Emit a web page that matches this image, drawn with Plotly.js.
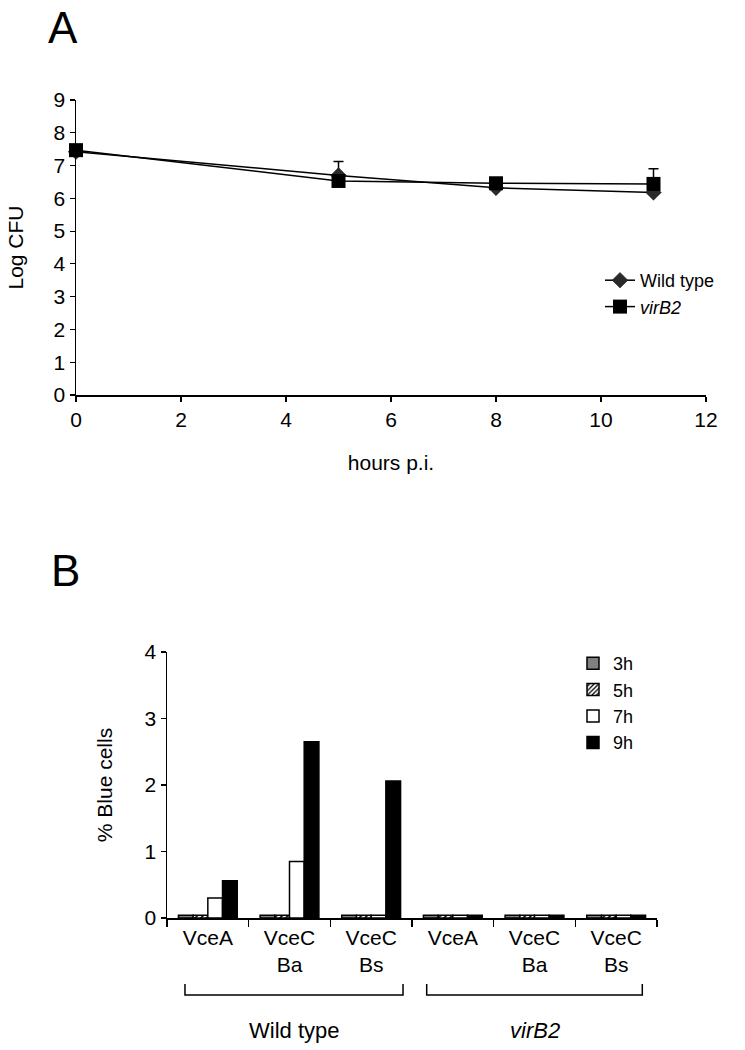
<!DOCTYPE html>
<html>
<head>
<meta charset="utf-8">
<script src="https://cdn.plot.ly/plotly-3.0.1.min.js"></script>
<style>html,body{margin:0;padding:0;background:#fff;}#chart{width:745px;height:1050px;}</style>
</head>
<body>
<div id="chart"></div>
<script>
// ---- Panel A data ----
const hoursPI = [0, 5, 8, 11];
const wildTypeCFU = [7.42, 6.70, 6.32, 6.18];
const virB2CFU = [7.47, 6.53, 6.46, 6.44];
const wildTypeErrUp = [0, 0.42, 0, 0];
const virB2ErrUp = [0, 0, 0, 0.46];
const noErr = [0, 0, 0, 0];

// ---- Panel B data ----
const strainLabels = ['VceA', 'VceC<br>Ba', 'VceC<br>Bs', 'VceA', 'VceC<br>Ba', 'VceC<br>Bs'];
const strainIndex = [0, 1, 2, 3, 4, 5];
const groupNames = ['Wild type', '<i>virB2</i>'];
const blue3h = [0.04, 0.04, 0.04, 0.04, 0.04, 0.04];
const blue5h = [0.04, 0.04, 0.04, 0.04, 0.04, 0.04];
const blue7h = [0.30, 0.85, 0.04, 0.04, 0.04, 0.04];
const blue9h = [0.56, 2.65, 2.06, 0.04, 0.04, 0.04];
const timeLabels = ['3h', '5h', '7h', '9h'];

const FONT = 'Liberation Sans, Arial, sans-serif';
const FS = 21;
const W = 745, H = 1050;
const px = v => v / W;
const py = v => 1 - v / H;

const traces = [
  {
    x: hoursPI, y: wildTypeCFU, name: 'Wild type', type: 'scatter', mode: 'lines+markers',
    xaxis: 'x', yaxis: 'y', legend: 'legend', cliponaxis: false,
    line: {color: 'black', width: 1.5},
    marker: {symbol: 'diamond', size: 12, color: '#2a2a2a', line: {color: '#111', width: 0.5}},
    error_y: {type: 'data', symmetric: false, array: wildTypeErrUp, arrayminus: noErr, color: 'black', thickness: 1.5, width: 5}
  },
  {
    x: hoursPI, y: virB2CFU, name: '<i>virB2</i>', type: 'scatter', mode: 'lines+markers',
    xaxis: 'x', yaxis: 'y', legend: 'legend', cliponaxis: false,
    line: {color: 'black', width: 1.5},
    marker: {symbol: 'square', size: 14, color: 'black'},
    error_y: {type: 'data', symmetric: false, array: virB2ErrUp, arrayminus: noErr, color: 'black', thickness: 1.5, width: 5}
  },
  {
    x: strainIndex, y: blue3h, name: timeLabels[0], type: 'bar', xaxis: 'x2', yaxis: 'y2', legend: 'legend2',
    marker: {color: '#808080', line: {color: 'black', width: 1.5}}
  },
  {
    x: strainIndex, y: blue5h, name: timeLabels[1], type: 'bar', xaxis: 'x2', yaxis: 'y2', legend: 'legend2',
    marker: {color: 'white', line: {color: 'black', width: 1.5},
      pattern: {shape: '/', fgcolor: 'black', bgcolor: 'white', size: 4, solidity: 0.4}}
  },
  {
    x: strainIndex, y: blue7h, name: timeLabels[2], type: 'bar', xaxis: 'x2', yaxis: 'y2', legend: 'legend2',
    marker: {color: 'white', line: {color: 'black', width: 1.5}}
  },
  {
    x: strainIndex, y: blue9h, name: timeLabels[3], type: 'bar', xaxis: 'x2', yaxis: 'y2', legend: 'legend2',
    marker: {color: 'black', line: {color: 'black', width: 1.5}}
  }
];

const axisCommon = {
  showline: true, linecolor: 'black', linewidth: 1.5, zeroline: false, showgrid: false,
  ticks: 'outside', ticklen: 5, tickwidth: 1.2, tickcolor: 'black',
  tickfont: {family: FONT, size: FS, color: 'black'}, fixedrange: true
};

const shapes = [];
const annotations = [
  {text: 'A', x: px(46), y: py(28), xref: 'paper', yref: 'paper', xanchor: 'left', yanchor: 'middle', showarrow: false, font: {family: FONT, size: 44, color: 'black'}},
  {text: 'B', x: px(49), y: py(570), xref: 'paper', yref: 'paper', xanchor: 'left', yanchor: 'middle', showarrow: false, font: {family: FONT, size: 44, color: 'black'}}
];
groupNames.forEach((g, i) => {
  const x0 = i * 3 - 0.28 + (i ? -0.04 : 0);
  const x1 = i * 3 + 2.39 + (i ? -0.07 : 0);
  const yb = py(995), yt = py(984);
  shapes.push({type: 'path', xref: 'x2', yref: 'paper',
    path: `M ${x0} ${yt} L ${x0} ${yb} L ${x1} ${yb} L ${x1} ${yt}`,
    line: {color: 'black', width: 1.5}});
  annotations.push({text: g, x: (x0 + x1) / 2, y: py(1030), xref: 'x2', yref: 'paper',
    xanchor: 'center', yanchor: 'middle', showarrow: false, font: {family: FONT, size: 22, color: 'black'}});
});

const layout = {
  width: W, height: H,
  margin: {l: 0, r: 0, t: 0, b: 0},
  paper_bgcolor: 'white', plot_bgcolor: 'white',
  font: {family: FONT, size: FS, color: 'black'},
  bargap: 0.28, bargroupgap: 0, barmode: 'group',
  xaxis: Object.assign({}, axisCommon, {
    domain: [px(76), px(706)], anchor: 'y', range: [0, 12], tickmode: 'linear', tick0: 0, dtick: 2,
    title: {text: 'hours p.i.', font: {family: FONT, size: FS, color: 'black'}, standoff: 25}
  }),
  yaxis: Object.assign({}, axisCommon, {
    domain: [py(395), py(100)], anchor: 'x', range: [0, 9], tickmode: 'linear', tick0: 0, dtick: 1,
    title: {text: 'Log CFU', font: {family: FONT, size: FS, color: 'black'}, standoff: 24}
  }),
  xaxis2: Object.assign({}, axisCommon, {
    domain: [px(167), px(657)], anchor: 'y2', range: [-0.5, 5.5],
    tickmode: 'array', tickvals: strainIndex, ticktext: strainLabels, ticks: '',
    minor: {tickmode: 'linear', tick0: 0.5, dtick: 1, ticks: 'outside', ticklen: 7, tickwidth: 1.2, tickcolor: 'black'}
  }),
  yaxis2: Object.assign({}, axisCommon, {
    domain: [py(918), py(652)], anchor: 'x2', range: [0, 4], tickmode: 'linear', tick0: 0, dtick: 1,
    title: {text: '% Blue cells', font: {family: FONT, size: FS, color: 'black'}, standoff: 26}
  }),
  legend: {x: px(600), y: py(262), xanchor: 'left', yanchor: 'top', bgcolor: 'rgba(0,0,0,0)',
    font: {family: FONT, size: 18, color: 'black'}, tracegroupgap: 0, itemwidth: 30},
  legend2: {x: px(573), y: py(645), xanchor: 'left', yanchor: 'top', bgcolor: 'rgba(0,0,0,0)',
    font: {family: FONT, size: 18, color: 'black'}, tracegroupgap: 0, itemwidth: 30, traceorder: 'normal'},
  shapes: shapes,
  annotations: annotations,
  showlegend: true
};

Plotly.newPlot('chart', traces, layout, {displayModeBar: false, staticPlot: true});
</script>
</body>
</html>
